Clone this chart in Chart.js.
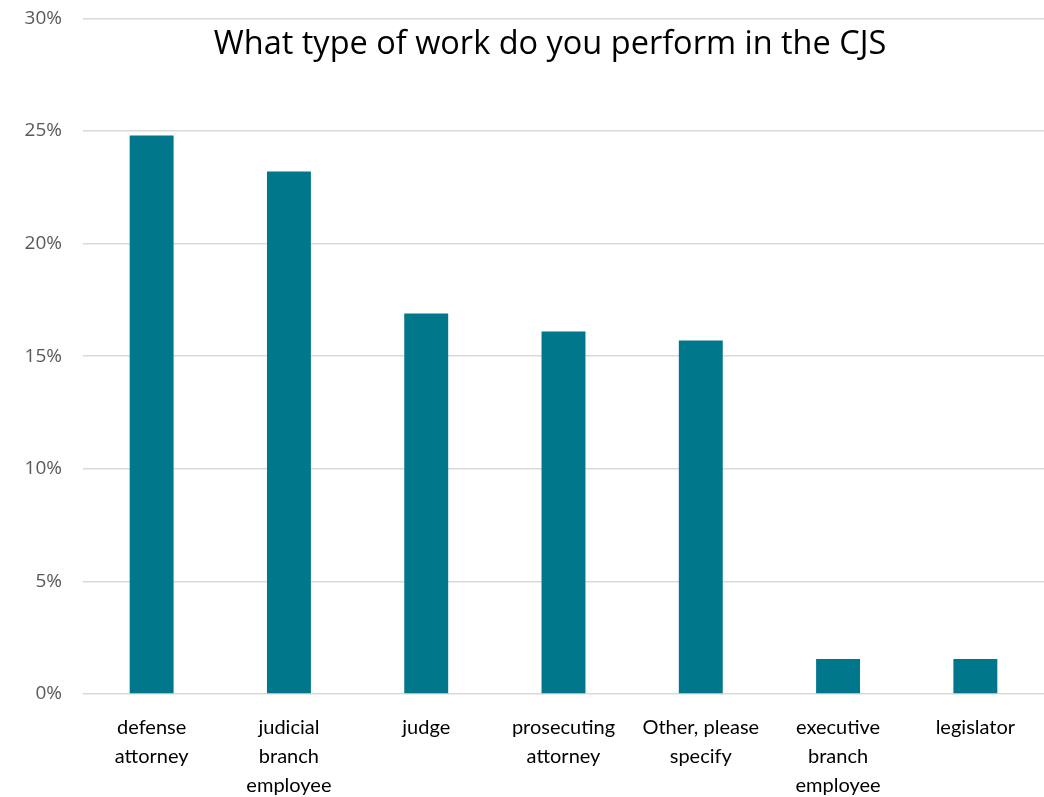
<!DOCTYPE html>
<html lang="en">
<head>
    <meta charset="UTF-8">
    <title>What type of work do you perform in the CJS</title>
    <style>
        body {
            margin: 0;
            padding: 0;
            background: #ffffff;
            overflow: hidden;
        }

        #chart-box {
            width: 1044px;
            height: 797px;
            position: relative;
            overflow: hidden;
        }

        /* canvas pulled up a little so the 30% line lands near the top edge */
        #work-chart {
            position: absolute;
            top: -14px;
            left: 0;
        }
    </style>
</head>
<body>
<div id="chart-box">
    <canvas id="work-chart" width="1044" height="811"></canvas>
</div>

<script src="https://cdn.jsdelivr.net/npm/chart.js"></script>
<script>
    var chartTitle = "What type of work do you perform in the CJS";
    var categories = [
        ["defense", "attorney"],
        ["judicial", "branch", "employee"],
        ["judge"],
        ["prosecuting", "attorney"],
        ["Other, please", "specify"],
        ["executive", "branch", "employee"],
        ["legislator"]
    ];
    var shares = [24.8, 23.2, 16.9, 16.1, 15.7, 1.55, 1.55];
    var yTicks = [0, 5, 10, 15, 20, 25, 30];

    // title sits inside the plot area, like the original
    var titleInside = {
        id: "titleInside",
        afterDraw: function (chart) {
            var ctx = chart.ctx;
            ctx.save();
            ctx.font = "32.5px 'Open Sans', sans-serif";
            ctx.fillStyle = "#000000";
            ctx.textAlign = "center";
            ctx.textBaseline = "middle";
            ctx.fillText(chartTitle, 550, 59);
            ctx.restore();
        }
    };

    var ctx = document.getElementById("work-chart").getContext("2d");
    var chart = new Chart(ctx, {
        type: "bar",
        data: {
            labels: categories,
            datasets: [{
                data: shares,
                backgroundColor: "#00778B",
                borderWidth: 0,
                categoryPercentage: 1,
                barPercentage: 0.32
            }]
        },
        options: {
            responsive: false,
            animation: false,
            layout: {
                padding: {top: 0, right: 0, bottom: 0, left: 0}
            },
            plugins: {
                legend: {display: false},
                title: {display: false},
                tooltip: {enabled: false}
            },
            scales: {
                x: {
                    grid: {display: false},
                    border: {display: false},
                    ticks: {
                        color: "#000000",
                        font: {family: "Lato", size: 20, lineHeight: 1.45},
                        padding: 11,
                        maxRotation: 0,
                        autoSkip: false
                    },
                    afterFit: function (scale) {
                        scale.height = 103;
                    }
                },
                y: {
                    min: 0,
                    max: 30,
                    afterBuildTicks: function (scale) {
                        scale.ticks = yTicks.map(function (v) {
                            return {value: v};
                        });
                    },
                    grid: {
                        color: "#d9d9d9",
                        lineWidth: 1.5,
                        drawTicks: false
                    },
                    border: {display: false},
                    ticks: {
                        color: "#595959",
                        font: {family: "'Open Sans'", size: 19},
                        padding: 21,
                        callback: function (v) {
                            return v + "%";
                        }
                    },
                    afterFit: function (scale) {
                        scale.width = 83;
                    }
                }
            }
        },
        plugins: [titleInside]
    });
</script>
</body>
</html>
